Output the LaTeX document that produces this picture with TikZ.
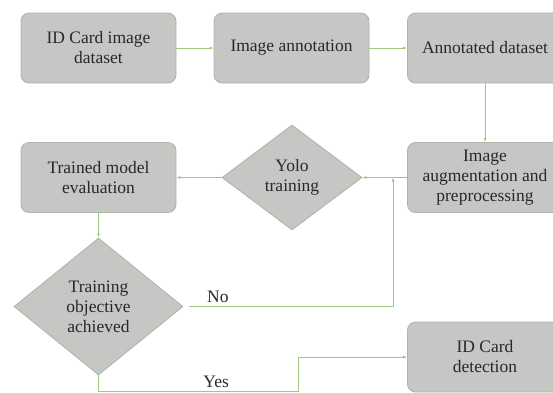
\documentclass[tikz,border=0pt]{standalone}
\usepackage{fontspec}
\setmainfont{Liberation Serif}
\usetikzlibrary{arrows.meta,shapes.geometric}
\definecolor{boxgray}{RGB}{198,198,197}
\definecolor{edgegray}{RGB}{172,182,166}
\definecolor{linkgreen}{RGB}{156,200,128}
\definecolor{inkgray}{RGB}{40,40,40}
\tikzset{
  link/.style={draw=linkgreen,line width=0.75pt,-{Latex[length=4pt,width=3pt]}},
  task/.style={draw=edgegray,line width=0.8pt,fill=boxgray,rounded corners=8pt,
               minimum width=155pt,minimum height=70pt,inner sep=2pt,align=center,
               font=\fontsize{17.5}{20}\selectfont,text=inkgray},
  check/.style={task,diamond,rounded corners=0pt,inner sep=0pt},
  lab/.style={font=\fontsize{17.5}{20}\selectfont,text=inkgray},
}

\begin{document}
\begin{tikzpicture}[x=1pt,y=-1pt]
  \path[use as bounding box] (0,0) rectangle (553,392);

  \node[task] (images) at (98.5,48) {ID Card image\\dataset};
  \node[task] (annotation) at (291.5,48) {Image annotation};
  \node[task] (annotated) at (485,48) {Annotated dataset};
  \node[task] (augment) at (485,177.5) {Image\\augmentation and\\preprocessing};
  \node[check,minimum width=140pt,minimum height=105pt] (yolo) at (292,177.5) {Yolo\\training};
  \node[task] (evaluation) at (98.5,177.5) {Trained model\\evaluation};
  \node[check,minimum width=169pt,minimum height=137pt] (objective) at (98.5,306.5)
    {Training\\objective\\achieved};
  \node[task] (detection) at (485,357) {ID Card\\detection};

  \coordinate (merge) at (393,177.5);

  \draw[link] (images) -- (annotation);
  \draw[link] (annotation) -- (annotated);
  \draw[link] (annotated) -- (augment);
  \draw[link] (augment) -- (yolo);
  \draw[link] (yolo) -- (evaluation);
  \draw[link] (evaluation) -- (objective);
  \draw[link] ([xshift=6pt]objective.east) -| node[lab,above,pos=0.07] {No} (merge);
  \draw[link] (objective.south) -- (98.5,391)
    -- node[lab,above,pos=0.59] {Yes} (298,391) |- (detection.west);
\end{tikzpicture}
\end{document}
